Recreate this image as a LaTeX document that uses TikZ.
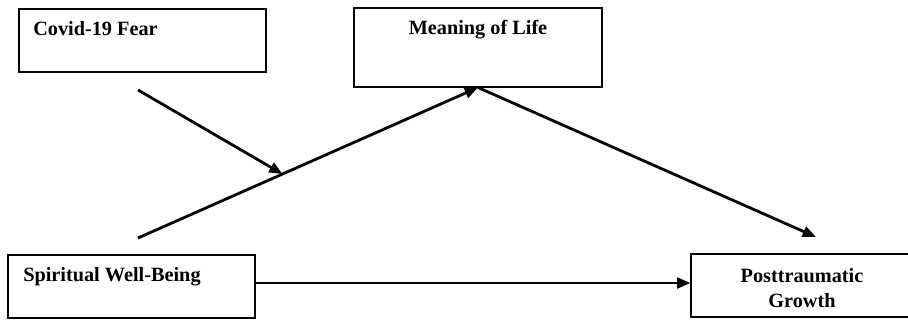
\documentclass[tikz,border=0pt]{standalone}
\usepackage{fontspec}
\setmainfont{Liberation Serif}
\usetikzlibrary{arrows.meta,calc}

\tikzset{
  varbox/.style={draw, line width=0.8pt, rectangle, inner sep=0pt},
  varlabel/.style={font=\fontsize{15.2}{18.75}\selectfont\bfseries, inner sep=0pt},
  path/.style={line width=2.1pt, -{Triangle[length=10pt,width=8pt]}}
}

\begin{document}
\begin{tikzpicture}[x=0.75pt, y=0.75pt]
        % Canvas
        \useasboundingbox (0,0) rectangle (908,324);
        \clip (0,0) rectangle (908,324);

        % Variable boxes
        \node[varbox, minimum width=247*0.75pt, minimum height=63*0.75pt] (fear) at (142.5,283.5) {};
        \node[varbox, minimum width=248*0.75pt, minimum height=79*0.75pt] (meaning) at (478,276.5) {};
        \node[varbox, minimum width=247*0.75pt, minimum height=63*0.75pt] (swb) at (131.5,37.5) {};
        \node[varbox, minimum width=222*0.75pt, minimum height=63*0.75pt] (ptg) at (802,38.5) {};

        % Labels
        \node[varlabel, anchor=base west] (feartext) at (33,288) {Covid-19 Fear};
        \node[varlabel, anchor=base] (meaningtext) at (478,289) {Meaning of Life};
        \node[varlabel, anchor=base west] (swbtext) at (23,42) {Spiritual Well-Being};
        \node[varlabel, anchor=base, align=center] (ptgtext) at (802,16) {Posttraumatic\\Growth};

        % Free ends of the paths
        \coordinate (fearstart) at (138,234);
        \coordinate (swbstart) at (138,86);
        \coordinate (ptgend) at (816,87);
        \coordinate (moderate) at ($(swbstart)!0.425!(meaning.south)$);

        % Paths
        \draw[path] (swbstart) -- (meaning.south);
        \draw[path] (meaning.south) -- (ptgend);
        \draw[path] (fearstart) -- (moderate);
        \draw[path] ([yshift=2.6pt]swb.east) -- ([yshift=2.6pt]swb.east -| ptg.west);
    \end{tikzpicture}
\end{document}
